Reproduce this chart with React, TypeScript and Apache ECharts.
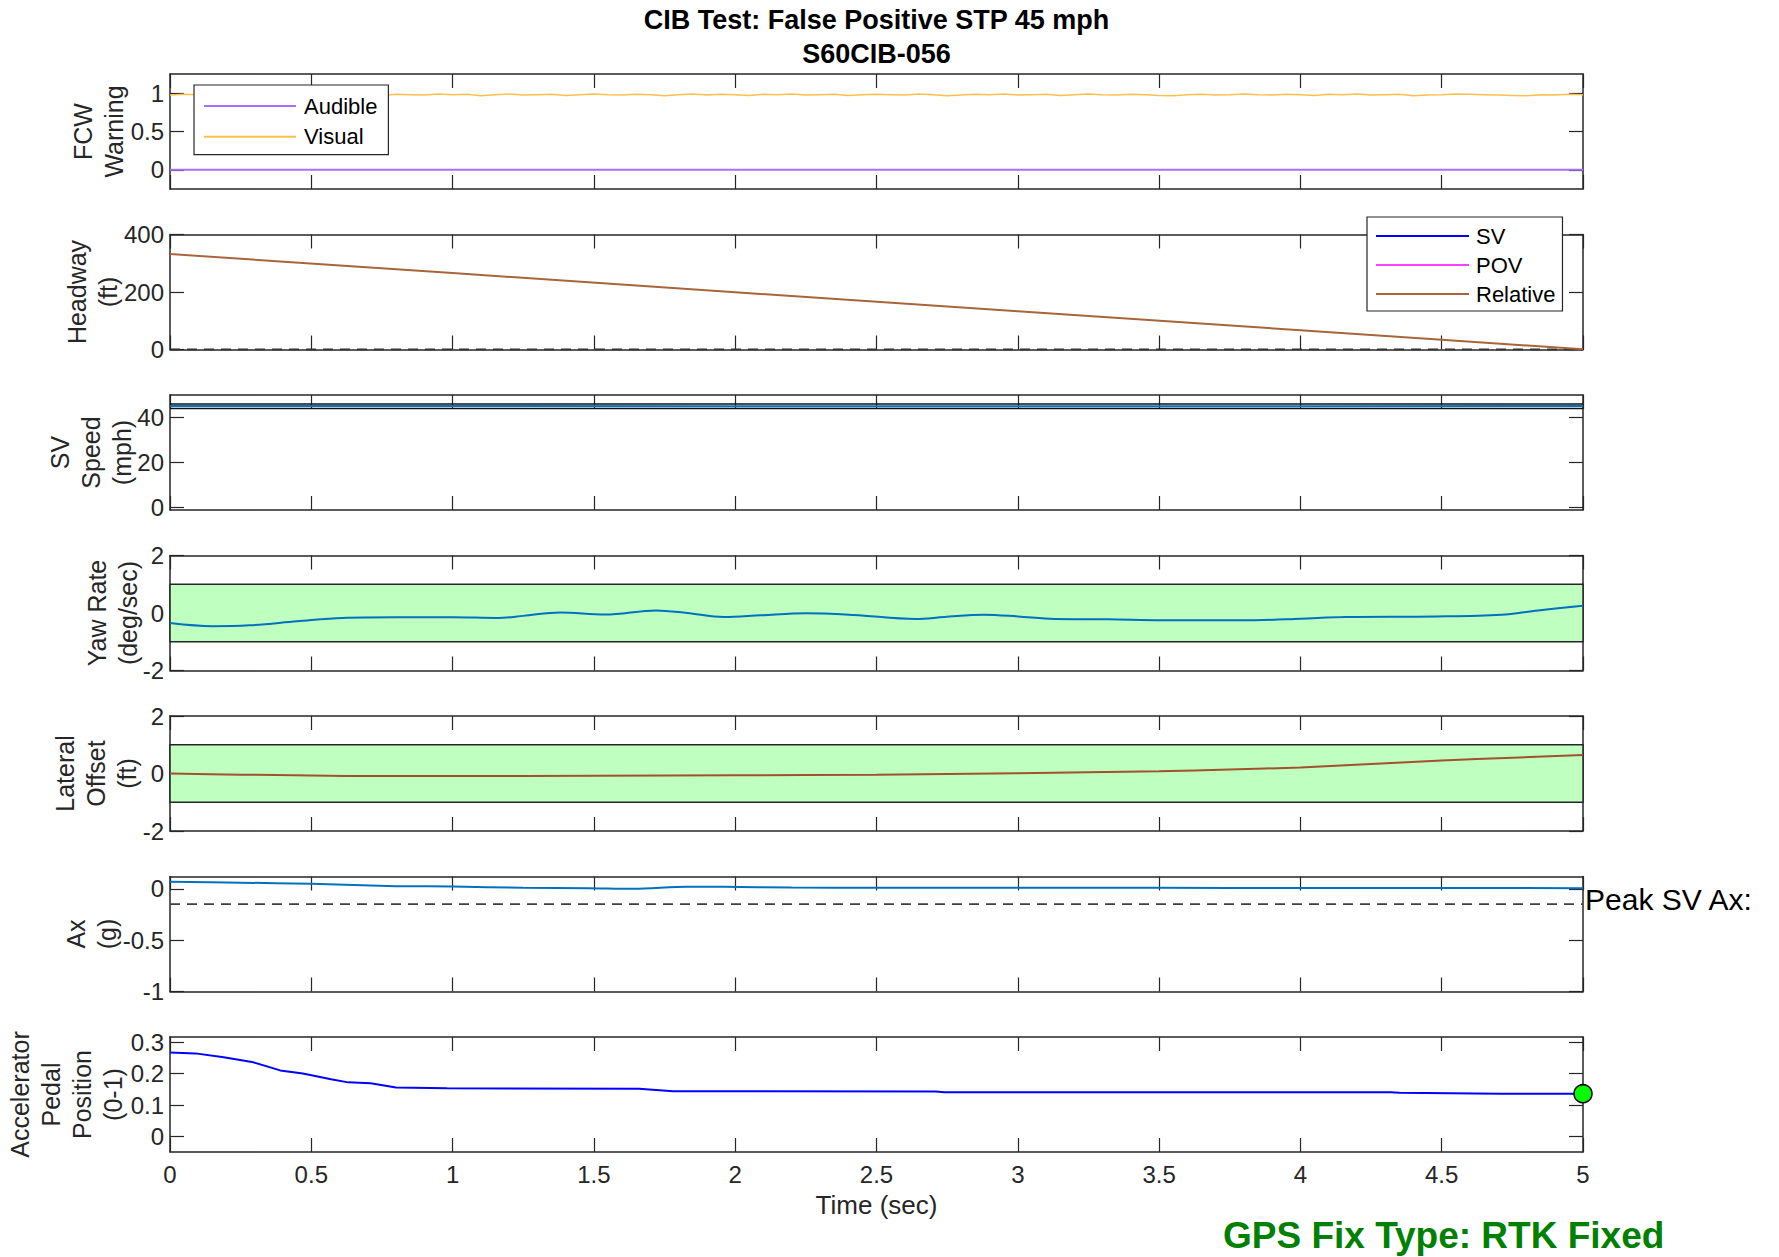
import React, { useEffect, useRef } from "react";
import * as echarts from "echarts";

// ---------- data ----------
const titleLines = ["CIB Test: False Positive STP 45 mph", "S60CIB-056"];
const xLabel = "Time (sec)";
const gpsText = "GPS Fix Type: RTK Fixed";
const peakText = "Peak SV Ax:";

const panelLabels = [
  ["FCW", "Warning"],
  ["Headway", "(ft)"],
  ["SV", "Speed", "(mph)"],
  ["Yaw Rate", "(deg/sec)"],
  ["Lateral", "Offset", "(ft)"],
  ["Ax", "(g)"],
  ["Accelerator", "Pedal", "Position", "(0-1)"],
];
const panelYMin = [-0.25, 0, -1.3, -2, -2, -1, -0.049];
const panelYMax = [1.25, 400, 50, 2, 2, 0.12, 0.316];
const panelYTicks = [
  [0, 0.5, 1],
  [0, 200, 400],
  [0, 20, 40],
  [-2, 0, 2],
  [-2, 0, 2],
  [-1, -0.5, 0],
  [0, 0.1, 0.2, 0.3],
];

const audibleT = [0, 5];
const audibleV = [0, 0];
const visualT = [
  0, 0.05, 0.1, 0.15, 0.2, 0.25, 0.3, 0.35, 0.4, 0.45,
  0.5, 0.55, 0.6, 0.65, 0.7, 0.75, 0.8, 0.85, 0.9, 0.95,
  1, 1.05, 1.1, 1.15, 1.2, 1.25, 1.3, 1.35, 1.4, 1.45,
  1.5, 1.55, 1.6, 1.65, 1.7, 1.75, 1.8, 1.85, 1.9, 1.95,
  2, 2.05, 2.1, 2.15, 2.2, 2.25, 2.3, 2.35, 2.4, 2.45,
  2.5, 2.55, 2.6, 2.65, 2.7, 2.75, 2.8, 2.85, 2.9, 2.95,
  3, 3.05, 3.1, 3.15, 3.2, 3.25, 3.3, 3.35, 3.4, 3.45,
  3.5, 3.55, 3.6, 3.65, 3.7, 3.75, 3.8, 3.85, 3.9, 3.95,
  4, 4.05, 4.1, 4.15, 4.2, 4.25, 4.3, 4.35, 4.4, 4.45,
  4.5, 4.55, 4.6, 4.65, 4.7, 4.75, 4.8, 4.85, 4.9, 4.95, 5,
];
const visualV = [
  0.975, 0.985, 0.98, 0.99, 0.975, 0.98, 0.985, 0.97, 0.98, 0.99,
  0.985, 0.975, 0.98, 0.99, 0.98, 0.97, 0.985, 0.98, 0.975, 0.99,
  0.98, 0.985, 0.965, 0.98, 0.99, 0.975, 0.98, 0.985, 0.97, 0.98,
  0.99, 0.98, 0.975, 0.985, 0.98, 0.965, 0.98, 0.99, 0.975, 0.985,
  0.98, 0.97, 0.985, 0.98, 0.99, 0.975, 0.98, 0.985, 0.97, 0.98,
  0.985, 0.98, 0.975, 0.99, 0.98, 0.965, 0.975, 0.985, 0.98, 0.99,
  0.975, 0.98, 0.985, 0.97, 0.98, 0.99, 0.98, 0.975, 0.985, 0.98,
  0.97, 0.965, 0.98, 0.985, 0.975, 0.98, 0.99, 0.98, 0.975, 0.985,
  0.98, 0.97, 0.985, 0.98, 0.99, 0.975, 0.98, 0.985, 0.965, 0.975,
  0.98, 0.99, 0.985, 0.98, 0.975, 0.97, 0.965, 0.98, 0.975, 0.985, 0.98,
];

const headwayZeroT = [0, 5];
const headwayZeroV = [0, 0];
const relativeT = [0, 1, 2, 3, 4, 4.5, 5];
const relativeV = [332, 266, 199, 133, 67, 34, 1];

const speedBoundT = [0, 5];
const speedUpperV = [46, 46];
const speedLowerV = [44, 44];
const speedT = [0, 1, 2, 3, 4, 5];
const speedV = [45.1, 45.1, 45.0, 45.0, 45.0, 45.1];

const bandLimits = [-1, 1];

const yawT = [0, 0.15, 0.28, 0.45, 0.61, 0.8, 1.0, 1.16, 1.25, 1.38, 1.54, 1.72, 1.83, 1.96, 2.09, 2.25, 2.42, 2.64, 2.74, 2.88, 3.0, 3.13, 3.32, 3.51, 3.84, 4.0, 4.16, 4.48, 4.71, 4.84, 5.0];
const yawV = [-0.35, -0.46, -0.43, -0.29, -0.17, -0.15, -0.15, -0.17, -0.1, 0.02, -0.05, 0.09, 0, -0.14, -0.08, -0.01, -0.07, -0.21, -0.14, -0.06, -0.12, -0.21, -0.22, -0.25, -0.25, -0.2, -0.14, -0.12, -0.06, 0.09, 0.25];

const latT = [0, 0.25, 0.5, 0.75, 1, 1.5, 2, 2.5, 3, 3.25, 3.5, 3.75, 4, 4.25, 4.5, 4.75, 5];
const latV = [0, -0.04, -0.07, -0.09, -0.09, -0.08, -0.06, -0.04, 0.01, 0.04, 0.08, 0.14, 0.21, 0.33, 0.45, 0.55, 0.64];

const axT = [0, 0.25, 0.5, 0.8, 1.0, 1.25, 1.48, 1.64, 1.83, 1.96, 2.2, 2.5, 3, 3.5, 4, 4.5, 5];
const axV = [0.068, 0.06, 0.049, 0.026, 0.023, 0.01, 0.006, 0.0, 0.02, 0.019, 0.012, 0.01, 0.01, 0.01, 0.008, 0.008, 0.006];
const axThreshT = [0, 5];
const axThreshV = [-0.15, -0.15];

const pedalT = [0, 0.09, 0.19, 0.29, 0.39, 0.47, 0.57, 0.63, 0.71, 0.8, 0.98, 1.66, 1.78, 2.71, 2.74, 4.32, 4.35, 4.71, 5.0];
const pedalV = [0.267, 0.264, 0.252, 0.237, 0.21, 0.2, 0.182, 0.172, 0.169, 0.156, 0.153, 0.152, 0.144, 0.143, 0.141, 0.141, 0.139, 0.136, 0.136];
const pedalEndT = [5];
const pedalEndV = [0.136];

// ---------- layout / style ----------
const FONT = "'Liberation Sans', Arial, Helvetica, sans-serif";
const AX = "#262626";
const GRID_LEFT = 170;
const GRID_RIGHT = 196;
const GRID_H = 115;
const gridTop = (i: number) => 74 + 160.5 * i;
const labelCenterX = [98, 92, 91, 112, 96, 91, 66.5];

const zip = (t: number[], v: number[]) => t.map((x, i) => [x, v[i]]);

function xAxisFor(i: number, pos: "bottom" | "top") {
  const isBottomLabelled = pos === "bottom" && i === 6;
  return {
    type: "value",
    gridIndex: i,
    position: pos,
    min: 0,
    max: 5,
    interval: 0.5,
    name: isBottomLabelled ? xLabel : "",
    nameLocation: "middle",
    nameGap: 40,
    nameTextStyle: { fontSize: 26, color: AX, fontFamily: FONT },
    axisLine: { show: true, onZero: false, lineStyle: { color: AX, width: 1.5 } },
    axisTick: { show: true, inside: true, length: 14, lineStyle: { color: AX, width: 1.2 } },
    axisLabel: { show: isBottomLabelled, margin: 10, fontSize: 24, color: AX, fontFamily: FONT },
    splitLine: { show: false },
  };
}

function yAxisFor(i: number, pos: "left" | "right") {
  return {
    type: "value",
    gridIndex: i,
    position: pos,
    min: panelYMin[i],
    max: panelYMax[i],
    axisLine: { show: true, onZero: false, lineStyle: { color: AX, width: 1.5 } },
    axisTick: { show: true, inside: true, length: 14, customValues: panelYTicks[i], lineStyle: { color: AX, width: 1.2 } },
    axisLabel: { show: pos === "left", customValues: panelYTicks[i], margin: 6, fontSize: 24, color: AX, fontFamily: FONT },
    splitLine: { show: false },
  };
}

function lineSeries(name: string, grid: number, data: number[][], color: string, width: number, extra: any = {}) {
  return {
    type: "line",
    name,
    xAxisIndex: grid * 2,
    yAxisIndex: grid * 2,
    data,
    color,
    showSymbol: false,
    symbol: "none",
    lineStyle: { color, width, ...(extra.lineStyle || {}) },
    silent: true,
    ...Object.fromEntries(Object.entries(extra).filter(([k]) => k !== "lineStyle")),
  };
}

const band = (color = "#BFFFBF") => ({
  silent: true,
  itemStyle: { color, borderColor: AX, borderWidth: 1.5 },
  data: [[{ xAxis: 0, yAxis: bandLimits[0] }, { xAxis: 5, yAxis: bandLimits[1] }]],
});

function buildOption() {
  const grids = [];
  const xAxes: any[] = [];
  const yAxes: any[] = [];
  for (let i = 0; i < 7; i++) {
    grids.push({ left: GRID_LEFT, right: GRID_RIGHT, top: gridTop(i), height: GRID_H, containLabel: false });
    xAxes.push(xAxisFor(i, "bottom"), xAxisFor(i, "top"));
    yAxes.push(yAxisFor(i, "left"), yAxisFor(i, "right"));
  }

  const series: any[] = [
    lineSeries("Audible", 0, zip(audibleT, audibleV), "#A970FF", 2),
    lineSeries("Visual", 0, zip(visualT, visualV), "#FFBF4D", 1.5),
    lineSeries("headwayZero", 1, zip(headwayZeroT, headwayZeroV), "#333333", 2, { lineStyle: { type: [10, 7] } }),
    lineSeries("SV", 1, [], "#0000FF", 2),
    lineSeries("POV", 1, [], "#FF40FF", 2),
    lineSeries("Relative", 1, zip(relativeT, relativeV), "#A8653A", 2),
    lineSeries("speedUpper", 2, zip(speedBoundT, speedUpperV), "#111111", 1.5),
    lineSeries("speedLower", 2, zip(speedBoundT, speedLowerV), "#111111", 1.5),
    lineSeries("SV Speed", 2, zip(speedT, speedV), "#0072BD", 2),
    lineSeries("Yaw Rate", 3, zip(yawT, yawV), "#0072BD", 2, { smooth: 0.35, markArea: band() }),
    lineSeries("Lateral Offset", 4, zip(latT, latV), "#A0522D", 2, { smooth: 0.3, markArea: band() }),
    lineSeries("axThresh", 5, zip(axThreshT, axThreshV), "#404040", 1.8, { lineStyle: { type: [10, 7] } }),
    lineSeries("Ax", 5, zip(axT, axV), "#0072BD", 2, { smooth: 0.3 }),
    lineSeries("Pedal", 6, zip(pedalT, pedalV), "#0000FF", 2),
    {
      type: "scatter",
      name: "PedalEnd",
      xAxisIndex: 12,
      yAxisIndex: 12,
      data: zip(pedalEndT, pedalEndV),
      symbolSize: 18,
      clip: false,
      silent: true,
      z: 5,
      itemStyle: { color: "#00FF00", borderColor: "#000000", borderWidth: 1.5, opacity: 1 },
    },
  ];

  const graphic: any[] = [];
  titleLines.forEach((t, k) => {
    graphic.push({
      type: "text",
      x: (GRID_LEFT + (1779 - GRID_RIGHT)) / 2,
      y: 19.5 + 34 * k,
      silent: true,
      style: { text: t, fill: "#000", fontSize: 27, fontWeight: "bold", fontFamily: FONT, align: "center", verticalAlign: "middle" },
    });
  });
  panelLabels.forEach((lines, i) => {
    graphic.push({
      type: "text",
      x: labelCenterX[i],
      y: gridTop(i) + GRID_H / 2,
      rotation: Math.PI / 2,
      silent: true,
      style: {
        text: lines.join("\n"),
        fill: AX,
        fontSize: 25,
        lineHeight: 31,
        fontFamily: FONT,
        align: "center",
        verticalAlign: "middle",
      },
    });
  });
  graphic.push({
    type: "text",
    x: 1585,
    y: 899,
    silent: true,
    style: { text: peakText, fill: "#000", fontSize: 30, fontFamily: FONT, align: "left", verticalAlign: "middle" },
  });
  graphic.push({
    type: "text",
    x: 1223,
    y: 1235,
    silent: true,
    style: { text: gpsText, fill: "#008000", fontSize: 37, fontWeight: "bold", fontFamily: FONT, align: "left", verticalAlign: "middle" },
  });

  const legendCommon = {
    orient: "vertical",
    icon: "rect",
    itemHeight: 2,
    selectedMode: false,
    backgroundColor: "#FFFFFF",
    borderColor: AX,
    borderWidth: 1.2,
    borderRadius: 0,
    z: 10,
    textStyle: { fontSize: 22, lineHeight: 22, color: "#000", fontFamily: FONT },
  };

  return {
    animation: false,
    backgroundColor: "#FFFFFF",
    textStyle: { fontFamily: FONT },
    grid: grids,
    xAxis: xAxes,
    yAxis: yAxes,
    legend: [
      {
        ...legendCommon,
        data: ["Audible", "Visual"],
        left: 194,
        top: 85,
        itemWidth: 92,
        itemGap: 8.7,
        padding: [10, 11, 7, 10],
        textStyle: { ...legendCommon.textStyle, padding: [0, 0, 0, 3] },
      },
      {
        ...legendCommon,
        data: ["SV", "POV", "Relative"],
        left: 1367,
        top: 217,
        itemWidth: 93,
        itemGap: 7,
        padding: [8, 7, 6, 9],
        textStyle: { ...legendCommon.textStyle, padding: [0, 0, 0, 2] },
      },
    ],
    graphic,
    series,
  };
}

export default function App() {
  const ref = useRef<HTMLDivElement>(null);
  useEffect(() => {
    document.body.style.margin = "0";
    const chart = echarts.init(ref.current as HTMLDivElement, null, { renderer: "svg" });
    chart.setOption(buildOption() as any);
    return () => chart.dispose();
  }, []);
  return <div ref={ref} style={{ width: 1779, height: 1257 }} />;
}
